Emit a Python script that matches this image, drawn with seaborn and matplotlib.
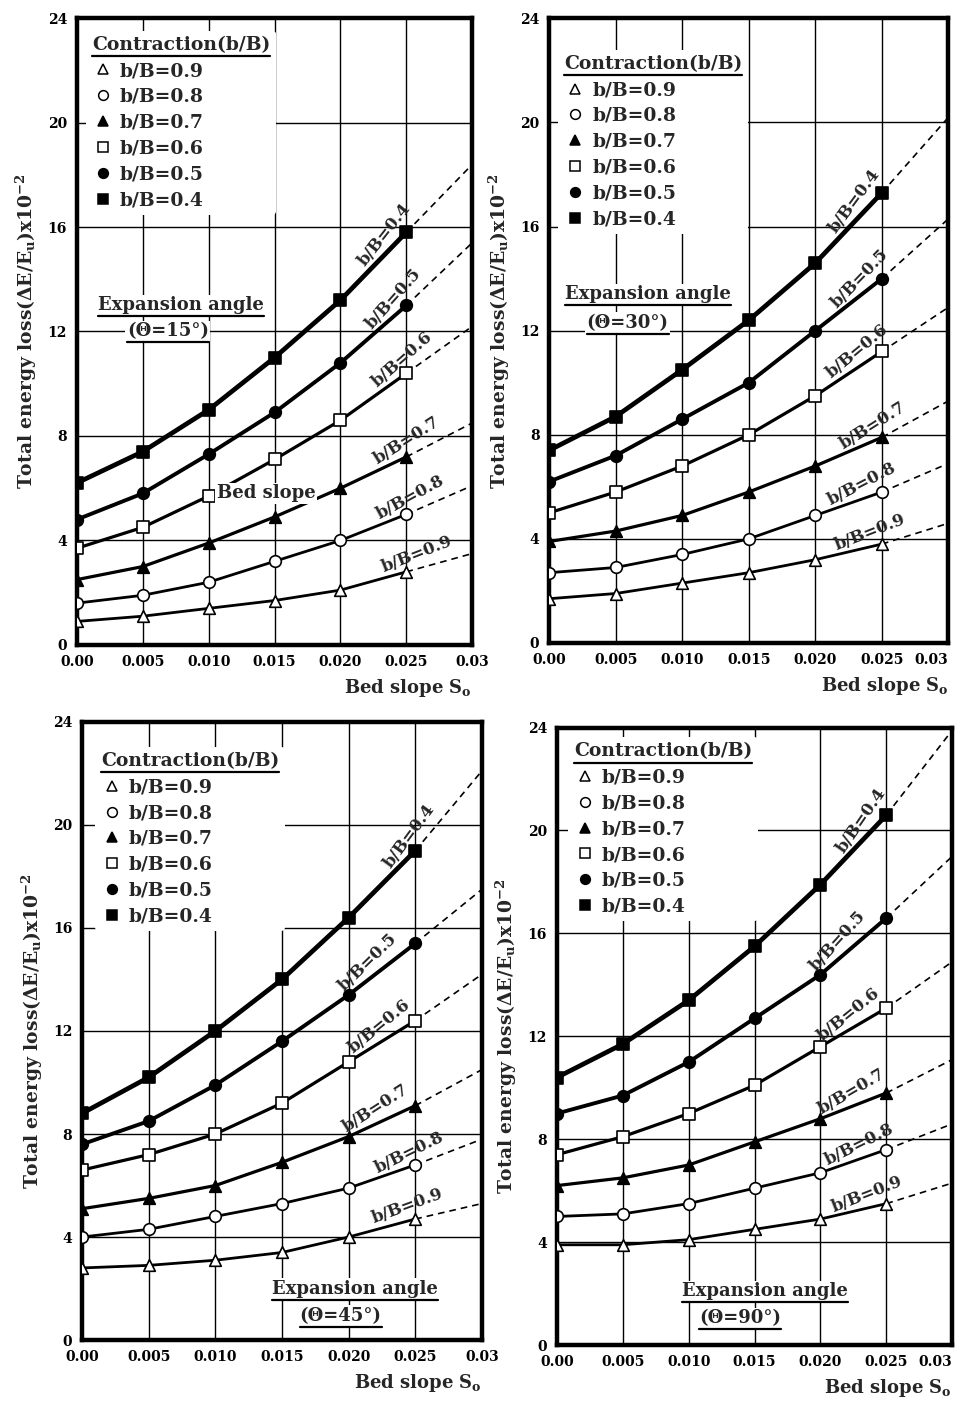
import numpy as np
import pandas as pd
import matplotlib
matplotlib.use("Agg")
import matplotlib.pyplot as plt
import seaborn as sns
from matplotlib.lines import Line2D

# bed slope values where points were measured, and the dashed end at 0.03
slopes = [0.000, 0.005, 0.010, 0.015, 0.020, 0.025]
slope_end = 0.03
ratios = [0.9, 0.8, 0.7, 0.6, 0.5, 0.4]
angles = [15, 30, 45, 90]
x_ticks = [0.0, 0.005, 0.010, 0.015, 0.020, 0.025, 0.03]
x_tick_labels = ["0.00", "0.005", "0.010", "0.015", "0.020", "0.025", "0.03"]
y_ticks = [0, 4, 8, 12, 16, 20, 24]

# total energy loss (x10^-2), rows in the order of `ratios`
loss_15 = [[0.9, 1.1, 1.4, 1.7, 2.1, 2.8],
           [1.6, 1.9, 2.4, 3.2, 4.0, 5.0],
           [2.5, 3.0, 3.9, 4.9, 6.0, 7.2],
           [3.7, 4.5, 5.7, 7.1, 8.6, 10.4],
           [4.8, 5.8, 7.3, 8.9, 10.8, 13.0],
           [6.2, 7.4, 9.0, 11.0, 13.2, 15.8]]
ext_15 = [3.5, 6.1, 8.5, 12.2, 15.4, 18.4]

loss_30 = [[1.7, 1.9, 2.3, 2.7, 3.2, 3.8],
           [2.7, 2.9, 3.4, 4.0, 4.9, 5.8],
           [3.9, 4.3, 4.9, 5.8, 6.8, 7.9],
           [5.0, 5.8, 6.8, 8.0, 9.5, 11.2],
           [6.2, 7.2, 8.6, 10.0, 12.0, 14.0],
           [7.4, 8.7, 10.5, 12.4, 14.6, 17.3]]
ext_30 = [4.6, 6.9, 9.3, 12.9, 16.3, 20.2]

loss_45 = [[2.8, 2.9, 3.1, 3.4, 4.0, 4.7],
           [4.0, 4.3, 4.8, 5.3, 5.9, 6.8],
           [5.1, 5.5, 6.0, 6.9, 7.9, 9.1],
           [6.6, 7.2, 8.0, 9.2, 10.8, 12.4],
           [7.6, 8.5, 9.9, 11.6, 13.4, 15.4],
           [8.8, 10.2, 12.0, 14.0, 16.4, 19.0]]
ext_45 = [5.3, 7.8, 10.5, 14.2, 17.5, 22.1]

loss_90 = [[3.9, 3.9, 4.1, 4.5, 4.9, 5.5],
           [5.0, 5.1, 5.5, 6.1, 6.7, 7.6],
           [6.2, 6.5, 7.0, 7.9, 8.8, 9.8],
           [7.4, 8.1, 9.0, 10.1, 11.6, 13.1],
           [9.0, 9.7, 11.0, 12.7, 14.4, 16.6],
           [10.4, 11.7, 13.4, 15.5, 17.9, 20.6]]
ext_90 = [6.3, 8.6, 11.1, 14.9, 19.0, 23.9]

# marker style per ratio
markers = ["^", "o", "^", "s", "o", "s"]
filled = [False, False, True, False, True, True]
widths = [2.0, 2.0, 2.3, 2.3, 2.8, 3.4]

# layout for each panel
rects = [[0.080, 0.5426, 0.412, 0.4446],
         [0.572, 0.5440, 0.416, 0.4430],
         [0.0854, 0.0496, 0.4166, 0.4384],
         [0.580, 0.0460, 0.412, 0.4380]]
legend_anchor = [(0.0, 0.995), (0.0, 0.965), (0.01, 0.975), (0.005, 1.0)]
exp_pos = [((0.0079, 13.0), (0.0069, 12.0)),
           ((0.0074, 13.4), (0.0059, 12.3)),
           ((0.0205, 2.0), (0.0194, 0.95)),
           ((0.0158, 2.1), (0.0139, 1.05))]
label_x = [[0.0262, 0.0258, 0.0256, 0.0254, 0.0248, 0.0242],
           [0.0245, 0.0240, 0.0249, 0.0238, 0.0241, 0.0238],
           [0.0248, 0.0250, 0.0226, 0.0230, 0.0222, 0.0254],
           [0.0239, 0.0234, 0.0229, 0.0228, 0.0221, 0.0240]]

sns.set_style("white")
plt.rcParams["font.family"] = ["DejaVu Serif"]
plt.rcParams["font.weight"] = "bold"
plt.rcParams["mathtext.fontset"] = "dejavuserif"
plt.rcParams["mathtext.default"] = "bf"

fig = plt.figure(figsize=(9.6, 14.1), dpi=100)
underlines = []


def draw_panel(ax, loss, ext, angle, k):
    for i, r in enumerate(ratios):
        df = pd.DataFrame({"slope": slopes, "loss": loss[i]})
        face = "black" if filled[i] else "white"
        ax.plot([slopes[-1], slope_end], [loss[i][-1], ext[i]], color="black",
                lw=1.2, ls=(0, (4, 3)), zorder=3)
        sns.lineplot(data=df, x="slope", y="loss", ax=ax, color="black",
                     lw=widths[i], errorbar=None, zorder=4)
        sns.scatterplot(data=df, x="slope", y="loss", ax=ax, marker=markers[i],
                        s=70, color=face, edgecolor="black", linewidth=1.2,
                        zorder=5, legend=False)

    ax.set_xlim(0, 0.03)
    ax.set_ylim(0, 24)
    ax.set_xticks(x_ticks)
    ax.set_xticklabels(x_tick_labels)
    ax.set_yticks(y_ticks)
    ax.grid(True, color="black", lw=1.0)
    ax.set_axisbelow(True)
    for s in ax.spines.values():
        s.set_linewidth(3.2)
        s.set_color("black")
    ax.tick_params(axis="both", labelsize=10, length=4, width=1, pad=3,
                   direction="out", colors="black")
    if k in (1, 3):
        # keep the last tick label inside the figure
        ax.get_xticklabels()[-1].set_ha("right")
    ax.set_xlabel("Bed slope S$_o$", fontsize=13, fontweight="bold",
                  loc="right", labelpad=6)
    ax.set_ylabel("Total energy loss(ΔE/E$_u$)x10$^{-2}$", fontsize=13.5,
                  fontweight="bold", labelpad=6)

    # curve labels along each line
    for i, r in enumerate(ratios):
        lx = label_x[k][i]
        ly = np.interp(lx, slopes + [slope_end], loss[i] + [ext[i]])
        p1 = ax.transData.transform((slopes[4], loss[i][4]))
        p2 = ax.transData.transform((slope_end, ext[i]))
        a = np.degrees(np.arctan2(p2[1] - p1[1], p2[0] - p1[0])) + 6
        d = 4
        ax.annotate(f"b/B={r}", xy=(lx, ly),
                    xytext=(-np.sin(np.radians(a)) * d, np.cos(np.radians(a)) * d),
                    textcoords="offset points", rotation=a, rotation_mode="anchor",
                    ha="center", va="bottom", fontsize=12, fontweight="bold",
                    zorder=6)

    handles = []
    for i, r in enumerate(ratios):
        face = "black" if filled[i] else "white"
        handles.append(Line2D([], [], marker=markers[i], ls="none", ms=7,
                              mfc=face, mec="black", mew=1.1,
                              label=f"b/B={r}"))
    leg = ax.legend(handles=handles, title="Contraction(b/B)", loc="upper left",
                    bbox_to_anchor=legend_anchor[k], fontsize=13.5,
                    title_fontproperties={"size": 13.5, "weight": "bold"},
                    frameon=True, facecolor="white", edgecolor="none",
                    framealpha=1, handletextpad=0.3, labelspacing=0.42,
                    handlelength=1.2, borderpad=0.3, alignment="left")
    leg.set_zorder(7)
    underlines.append(leg.get_title())

    t1 = ax.text(*exp_pos[k][0], "Expansion angle", ha="center", va="center",
                 fontsize=13, fontweight="bold", zorder=7,
                 bbox=dict(facecolor="white", edgecolor="none", pad=1))
    t2 = ax.text(*exp_pos[k][1], f"(Θ={angle}°)", ha="center", va="center",
                 fontsize=13, fontweight="bold", zorder=7,
                 bbox=dict(facecolor="white", edgecolor="none", pad=1))
    underlines.append(t1)
    underlines.append(t2)


all_loss = [loss_15, loss_30, loss_45, loss_90]
all_ext = [ext_15, ext_30, ext_45, ext_90]
axes = []
for k in range(4):
    ax = fig.add_axes(rects[k])
    draw_panel(ax, all_loss[k], all_ext[k], angles[k], k)
    axes.append(ax)

# stray label in the first panel
axes[0].text(0.01435, 5.8, "Bed slope", ha="center", va="center", fontsize=13,
             fontweight="bold", zorder=7,
             bbox=dict(facecolor="white", edgecolor="none", pad=1))

# underline the titles
fig.canvas.draw()
inv = fig.transFigure.inverted()
for t in underlines:
    bb = t.get_window_extent()
    (x0, y0), (x1, _) = inv.transform([(bb.x0, bb.y0 - 2), (bb.x1, bb.y0)])
    fig.add_artist(Line2D([x0, x1], [y0, y0], color="black", lw=1.6, zorder=10))

fig.savefig("out.png", dpi=100)
